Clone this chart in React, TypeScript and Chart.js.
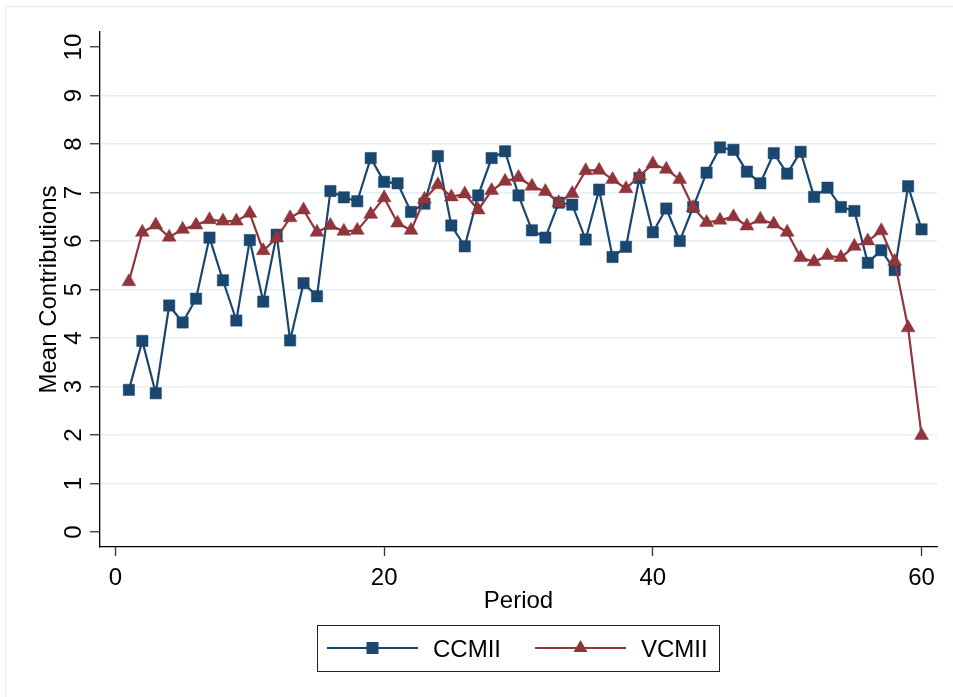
import React, { useEffect, useRef } from 'react';
import { Chart, registerables } from 'chart.js';

Chart.register(...registerables);

const periods = [
  1, 2, 3, 4, 5, 6, 7, 8, 9, 10, 11, 12, 13, 14, 15, 16, 17, 18, 19, 20,
  21, 22, 23, 24, 25, 26, 27, 28, 29, 30, 31, 32, 33, 34, 35, 36, 37, 38, 39, 40,
  41, 42, 43, 44, 45, 46, 47, 48, 49, 50, 51, 52, 53, 54, 55, 56, 57, 58, 59, 60,
];

const ccmii = [
  2.93, 3.94, 2.86, 4.67, 4.32, 4.81, 6.07, 5.19, 4.36, 6.02,
  4.75, 6.13, 3.95, 5.13, 4.86, 7.03, 6.9, 6.82, 7.71, 7.22,
  7.19, 6.6, 6.77, 7.75, 6.32, 5.89, 6.94, 7.71, 7.85, 6.94,
  6.22, 6.07, 6.79, 6.75, 6.03, 7.06, 5.67, 5.88, 7.3, 6.18,
  6.67, 6.0, 6.7, 7.41, 7.93, 7.88, 7.43, 7.19, 7.81, 7.39,
  7.84, 6.91, 7.1, 6.7, 6.62, 5.55, 5.81, 5.4, 7.13, 6.24,
];

const vcmii = [
  5.16, 6.18, 6.33, 6.08, 6.24, 6.33, 6.44, 6.41, 6.41, 6.57,
  5.8, 6.06, 6.48, 6.64, 6.18, 6.32, 6.2, 6.22, 6.55, 6.89,
  6.37, 6.22, 6.86, 7.16, 6.91, 6.97, 6.64, 7.04, 7.23, 7.31,
  7.13, 7.02, 6.79, 6.98, 7.45, 7.46, 7.27, 7.08, 7.34, 7.59,
  7.48, 7.27, 6.69, 6.38, 6.43, 6.5, 6.31, 6.45, 6.35, 6.18,
  5.66, 5.57, 5.7, 5.66, 5.89, 6.0, 6.21, 5.58, 4.21, 1.99,
];

const seriesNames = ['CCMII', 'VCMII'];
const xTicks = [0, 20, 40, 60];
const yTicks = [0, 1, 2, 3, 4, 5, 6, 7, 8, 9, 10];
const xTitle = 'Period';
const yTitle = 'Mean Contributions';

const NAVY = '#1a476f';
const MAROON = '#90353b';
const GRID = '#e6eef1';
const FONT = '"Liberation Sans", Arial, Helvetica, sans-serif';
const FS = 24;

function drawMarker(ctx: CanvasRenderingContext2D, style: string, x: number, y: number, color: string) {
  ctx.save();
  ctx.fillStyle = color;
  ctx.beginPath();
  if (style === 'rect') {
    ctx.rect(x - 6, y - 6, 12, 12);
  } else {
    ctx.moveTo(x, y - 8);
    ctx.lineTo(x + 7, y + 4);
    ctx.lineTo(x - 7, y + 4);
    ctx.closePath();
  }
  ctx.fill();
  ctx.restore();
}

const overlay = {
  id: 'overlay',
  beforeDraw(chart: any) {
    const ctx = chart.ctx as CanvasRenderingContext2D;
    ctx.save();
    ctx.strokeStyle = '#e8eef1';
    ctx.lineWidth = 1;
    ctx.strokeRect(5.5, 6.5, 980, 720);
    ctx.restore();
  },
  afterDraw(chart: any) {
    const ctx = chart.ctx as CanvasRenderingContext2D;
    const xs = chart.scales.x;
    const ys = chart.scales.y;
    const ca = chart.chartArea;
    const capH = FS * 0.716;
    ctx.save();
    ctx.fillStyle = '#000';
    ctx.font = `${FS}px ${FONT}`;
    ctx.textBaseline = 'alphabetic';
    ctx.textAlign = 'center';

    // y tick labels (rotated)
    yTicks.forEach((v) => {
      const py = ys.getPixelForValue(v);
      ctx.save();
      ctx.translate(72, py);
      ctx.rotate(-Math.PI / 2);
      ctx.fillText(String(v), 0, capH / 2);
      ctx.restore();
    });

    // y title
    ctx.save();
    ctx.translate(47, (ca.top + ca.bottom) / 2);
    ctx.rotate(-Math.PI / 2);
    ctx.fillText(yTitle, 0, capH / 2);
    ctx.restore();

    // x tick labels
    xTicks.forEach((v) => {
      const px = xs.getPixelForValue(v);
      ctx.fillText(String(v), px, 576 + capH / 2);
    });

    // x title
    ctx.fillText(xTitle, (ca.left + ca.right) / 2, 599 + capH / 2);

    // legend box
    ctx.strokeStyle = '#222';
    ctx.lineWidth = 1;
    ctx.strokeRect(317.5, 625.5, 402, 46);
    const items = [
      { x0: 327, x1: 418, tx: 433 },
      { x0: 535, x1: 626, tx: 641 },
    ];
    const ly = 648;
    chart.data.datasets.forEach((ds: any, i: number) => {
      const it = items[i];
      ctx.strokeStyle = ds.borderColor;
      ctx.lineWidth = 2;
      ctx.beginPath();
      ctx.moveTo(it.x0, ly);
      ctx.lineTo(it.x1, ly);
      ctx.stroke();
      drawMarker(ctx, ds.pointStyle, (it.x0 + it.x1) / 2, ly, ds.borderColor);
      ctx.fillStyle = '#000';
      ctx.textAlign = 'left';
      ctx.fillText(ds.label, it.tx, ly + capH / 2);
    });
    ctx.restore();
  },
};

export default function App() {
  const ref = useRef<HTMLCanvasElement | null>(null);

  useEffect(() => {
    if (!ref.current) return;
    const chart = new Chart(ref.current, {
      type: 'line',
      data: {
        datasets: [
          {
            label: seriesNames[0],
            data: periods.map((p, i) => ({ x: p, y: ccmii[i] })),
            borderColor: NAVY,
            backgroundColor: NAVY,
            borderWidth: 2.2,
            pointStyle: 'rect',
            pointRadius: 8,
            pointBorderWidth: 0.5,
            pointBackgroundColor: NAVY,
            pointBorderColor: NAVY,
            tension: 0,
            order: 2,
          },
          {
            label: seriesNames[1],
            data: periods.map((p, i) => ({ x: p, y: vcmii[i] })),
            borderColor: MAROON,
            backgroundColor: MAROON,
            borderWidth: 2.2,
            pointStyle: 'triangle',
            pointRadius: 8,
            pointBorderWidth: 0.5,
            pointBackgroundColor: MAROON,
            pointBorderColor: MAROON,
            tension: 0,
            order: 1,
          },
        ],
      },
      options: {
        responsive: false,
        animation: false,
        events: [],
        layout: { padding: { left: 90, top: 32, right: 16, bottom: 141 } },
        plugins: { legend: { display: false }, tooltip: { enabled: false } },
        scales: {
          x: {
            type: 'linear',
            min: -1.15,
            max: 61.15,
            afterBuildTicks: (s: any) => {
              s.ticks = xTicks.map((v) => ({ value: v }));
            },
            ticks: { display: false },
            grid: {
              drawOnChartArea: false,
              drawTicks: true,
              tickLength: 9,
              tickColor: '#333',
              tickWidth: 1.3,
            },
            border: { display: true, color: '#000', width: 1.3 },
          },
          y: {
            type: 'linear',
            min: -0.31,
            max: 10.31,
            afterBuildTicks: (s: any) => {
              s.ticks = yTicks.map((v) => ({ value: v }));
            },
            ticks: { display: false },
            grid: {
              color: (c: any) =>
                c.tick && (c.tick.value === 0 || c.tick.value === 10) ? 'rgba(0,0,0,0)' : GRID,
              lineWidth: 1.5,
              drawTicks: true,
              tickLength: 10,
              tickColor: '#333',
              tickWidth: 1.3,
            },
            border: { display: true, color: '#000', width: 1.3 },
          },
        },
      },
      plugins: [overlay],
    });
    return () => chart.destroy();
  }, []);

  return (
    <div style={{ position: 'absolute', left: 0, top: 0, width: 953, height: 697, background: '#fff' }}>
      <canvas ref={ref} width={953} height={697} style={{ display: 'block', width: 953, height: 697 }} />
    </div>
  );
}
